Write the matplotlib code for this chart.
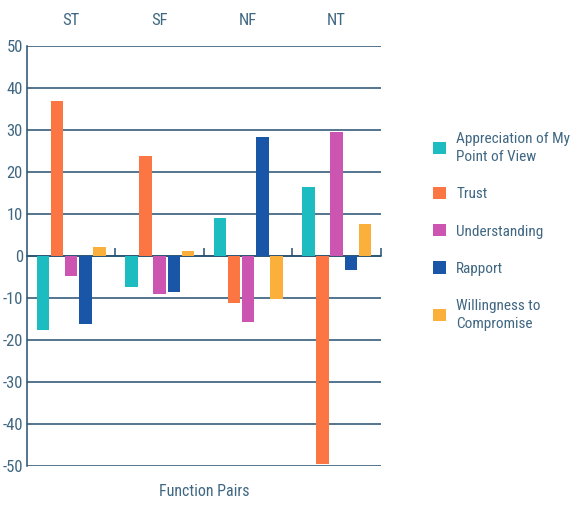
import numpy as np
import matplotlib
matplotlib.use("Agg")
import matplotlib.pyplot as plt

pairs = ["ST", "SF", "NF", "NT"]
series = ["Appreciation of My\nPoint of View", "Trust", "Understanding",
          "Rapport", "Willingness to\nCompromise"]
appreciation = [-17.7, -7.5, 9.0, 16.3]
trust = [36.8, 23.8, -11.2, -49.5]
understanding = [-4.8, -9.0, -15.7, 29.4]
rapport = [-16.2, -8.7, 28.3, -3.4]
willingness = [2.0, 1.2, -10.2, 7.5]
yticks = [50, 40, 30, 20, 10, 0, -10, -20, -30, -40, -50]

colors = ["#1cbcc0", "#fc7643", "#cc55b2", "#1a56a8", "#fbb03b"]
text_c = "#3f6782"
line_c = "#24506f"
plt.rcParams["font.family"] = ["Roboto Condensed", "Roboto", "DejaVu Sans"]
plt.rcParams["font.stretch"] = "condensed"

fig = plt.figure(figsize=(5.86, 5.08), dpi=100)
ax = fig.add_axes([0.046, 0.083, 0.604, 0.827])

values = [appreciation, trust, understanding, rapport, willingness]
x = np.arange(len(pairs)) + 0.5
pitch, width = 0.16, 0.14
handles = []
for i, (vals, c) in enumerate(zip(values, colors)):
    h = ax.bar(x + (i - 2) * pitch, vals, width, color=c, zorder=3)
    handles.append(h)

ax.set_xlim(0, len(pairs))
ax.set_ylim(-50, 50)
ax.set_yticks(yticks)
ax.set_yticklabels([str(v) for v in yticks])
ax.grid(axis="y", color=line_c, linewidth=1.1, zorder=0)
ax.tick_params(axis="y", length=0, pad=3, labelsize=12, labelcolor=text_c)

for s in ["top", "right"]:
    ax.spines[s].set_visible(False)
ax.spines["left"].set_color(line_c)
ax.spines["left"].set_linewidth(1.1)
ax.spines["bottom"].set_position(("data", 0))
ax.spines["bottom"].set_color(line_c)
ax.spines["bottom"].set_linewidth(1.1)
ax.set_xticks(np.arange(1, len(pairs) + 1))
ax.set_xticklabels([])
ax.tick_params(axis="x", direction="in", length=6, width=1.1, color=line_c)

top = ax.secondary_xaxis("top")
top.set_xticks(x)
top.set_xticklabels(pairs)
top.tick_params(length=0, pad=13, labelsize=12, labelcolor=text_c)
top.spines["top"].set_visible(False)

ax.text(0.5, -0.06, "Function Pairs", transform=ax.transAxes, ha="center",
        va="center", fontsize=11.5, color=text_c)

leg = fig.legend(handles, series, loc="upper left", bbox_to_anchor=(0.716, 0.767),
                 frameon=False, fontsize=11, labelcolor=text_c,
                 handlelength=0.85, handleheight=0.85, handletextpad=0.65,
                 labelspacing=1.5)
for t in leg.get_texts():
    t.set_linespacing(1.35)

fig.savefig("out.png", dpi=100)
